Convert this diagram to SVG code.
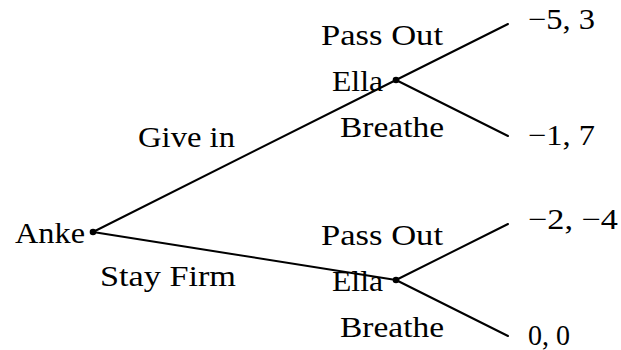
<svg xmlns="http://www.w3.org/2000/svg" width="621" height="350" viewBox="0 0 621 350">
  <style>
    text { font-family: "Liberation Serif", "DejaVu Serif", serif; font-size: 29px; fill: #000; }
    .edge { stroke: #000; stroke-width: 2; fill: none; stroke-linecap: round; }
    .dot { fill: #000; }
  </style>
  <rect width="621" height="350" fill="#fff"/>

  <!-- game tree branches -->
  <g id="connectors">
    <line class="edge" x1="93" y1="232" x2="396" y2="80"/>
    <line class="edge" x1="93" y1="232" x2="396" y2="280"/>
    <line class="edge" x1="396" y1="80" x2="508" y2="24"/>
    <line class="edge" x1="396" y1="80" x2="508" y2="136"/>
    <line class="edge" x1="396" y1="280" x2="508" y2="224"/>
    <line class="edge" x1="396" y1="280" x2="508" y2="336"/>
  </g>

  <!-- move labels -->
  <g id="labels">
    <text x="138" y="147" textLength="97" lengthAdjust="spacingAndGlyphs">Give in</text>
    <text x="100" y="286" textLength="136" lengthAdjust="spacingAndGlyphs">Stay Firm</text>
    <text x="321" y="45" textLength="122" lengthAdjust="spacingAndGlyphs">Pass Out</text>
    <text x="340" y="137" textLength="104" lengthAdjust="spacingAndGlyphs">Breathe</text>
    <text x="321" y="245" textLength="122" lengthAdjust="spacingAndGlyphs">Pass Out</text>
    <text x="340" y="337" textLength="104" lengthAdjust="spacingAndGlyphs">Breathe</text>
  </g>

  <!-- decision nodes -->
  <g id="anke">
    <circle class="dot" cx="93" cy="232" r="3.3"/>
    <text x="15" y="243" textLength="70" lengthAdjust="spacingAndGlyphs">Anke</text>
  </g>
  <g id="ella-top">
    <circle class="dot" cx="396" cy="80" r="3.3"/>
    <text x="332" y="91" textLength="51" lengthAdjust="spacingAndGlyphs">Ella</text>
  </g>
  <g id="ella-bottom">
    <circle class="dot" cx="396" cy="280" r="3.3"/>
    <text x="332" y="291" textLength="51" lengthAdjust="spacingAndGlyphs">Ella</text>
  </g>

  <!-- payoffs -->
  <g id="payoff-1">
    <text x="528" y="29" textLength="67" lengthAdjust="spacingAndGlyphs">−5, 3</text>
  </g>
  <g id="payoff-2">
    <text x="528" y="145" textLength="67" lengthAdjust="spacingAndGlyphs">−1, 7</text>
  </g>
  <g id="payoff-3">
    <text x="528" y="229" textLength="90" lengthAdjust="spacingAndGlyphs">−2, −4</text>
  </g>
  <g id="payoff-4">
    <text x="528" y="345" textLength="42" lengthAdjust="spacingAndGlyphs">0, 0</text>
  </g>
</svg>
